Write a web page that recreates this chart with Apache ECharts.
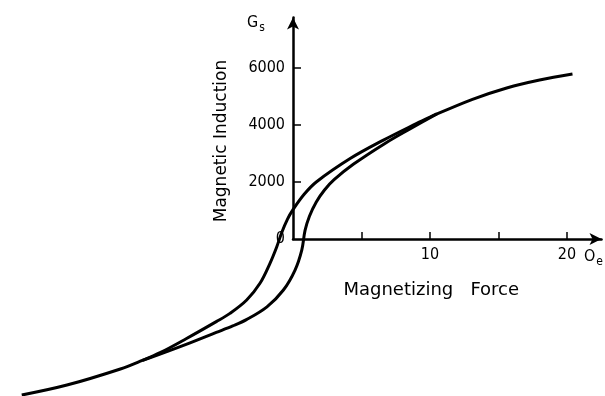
<!DOCTYPE html>
<html>
<head>
<meta charset="utf-8">
<script src="https://cdn.jsdelivr.net/npm/echarts@6/dist/echarts.min.js"></script>
<style>
  html, body { margin: 0; padding: 0; background: #fff; }
  #chart { width: 605px; height: 396px; }
</style>
</head>
<body>
<div id="chart"></div>
<script>
// hysteresis loop, H in Oe, B in Gs
// upper branch: from +saturation back down to -saturation (includes both shared tails)
var upperH = [20.4, 18.0, 15.6, 13.1, 10.0, 9.0, 6.6, 4.2, 1.7, 0.8, 0, -0.4, -0.82, -1.19, -1.68, -2.41, -3.38, -4.6, -5.6, -7.8, -9.7, -11.0, -12.6, -16.5, -19.8];
var upperB = [5790, 5580, 5300, 4900, 4280, 4050, 3470, 2830, 2000, 1560, 1030, 700, 230, -280, -853, -1555, -2141, -2610, -2900, -3500, -3990, -4260, -4560, -5125, -5475];
// lower branch: from the lower merge point up to the upper merge point
var lowerH = [-11.0, -9.7, -7.8, -5.6, -4.4, -3.4, -1.9, -0.7, 0.15, 0.64, 0.88, 1.2, 1.7, 2.3, 3.0, 4.4, 6.8, 8.6, 10.5];
var lowerB = [-4260, -4040, -3700, -3280, -3050, -2830, -2380, -1790, -1090, -390, 300, 800, 1300, 1720, 2080, 2620, 3380, 3880, 4390];

var xTicks = [5, 10, 15, 20];
var xLabels = [10, 20];
var yTicks = [2000, 4000, 6000];
var yLabels = [0, 2000, 4000, 6000];

function pairs(xs, ys) {
  return xs.map(function (x, i) { return [x, ys[i]]; });
}

// origin in pixels and pixels per unit, shared by both grids
var ox = 293, oy = 239, kx = 13.7, ky = 0.0285;
var gridTop = 17.5, axW = 308.5;

var font = '"DejaVu Sans Condensed", "DejaVu Sans", sans-serif';
var titleFont = '"DejaVu Sans", sans-serif';
var chart = echarts.init(document.getElementById('chart'));

var hidden = { show: false };

var option = {
  animation: false,
  backgroundColor: '#fff',
  grid: [
    { left: 0, top: gridTop, width: ox + axW, height: 396 - gridTop },
    { left: ox, top: gridTop, width: axW, height: oy - gridTop }
  ],
  xAxis: [
    {
      type: 'value', gridIndex: 0, min: -ox / kx, max: axW / kx,
      axisLine: hidden, axisTick: hidden, axisLabel: hidden, splitLine: hidden
    },
    {
      type: 'value', gridIndex: 1, min: 0, max: axW / kx,
      splitLine: { show: false },
      axisLine: {
        show: true,
        lineStyle: { color: '#000', width: 2.5 },
        symbol: ['none', 'arrow'],
        symbolSize: [9, 12]
      },
      axisTick: { show: true, inside: true, length: 7, customValues: xTicks, lineStyle: { color: '#000', width: 1.5 } },
      axisLabel: { customValues: xLabels, color: '#000', fontFamily: font, fontSize: 16, margin: 8 },
      name: 'Magnetizing   Force',
      nameLocation: 'middle',
      nameGap: 42,
      nameTextStyle: { color: '#000', fontFamily: titleFont, fontSize: 18, padding: [0, 32, 0, 0] }
    }
  ],
  yAxis: [
    {
      type: 'value', gridIndex: 0, min: -(396 - oy) / ky, max: (oy - gridTop) / ky,
      axisLine: hidden, axisTick: hidden, axisLabel: hidden, splitLine: hidden
    },
    {
      type: 'value', gridIndex: 1, min: 0, max: (oy - gridTop) / ky,
      splitLine: { show: false },
      axisLine: {
        show: true,
        lineStyle: { color: '#000', width: 2.5 },
        symbol: ['none', 'arrow'],
        symbolSize: [9, 12]
      },
      axisTick: { show: true, inside: true, length: 8, customValues: yTicks, lineStyle: { color: '#000', width: 1.5 } },
      axisLabel: {
        customValues: yLabels, color: '#000', fontFamily: font, fontSize: 16, margin: 8,
        formatter: function (v) { return String(v); }
      }
    }
  ],
  graphic: [
    {
      type: 'text', left: 247, top: 15,
      style: { text: '{g|G}{s|s}', fill: '#000', rich: { g: { fontFamily: font, fontSize: 16 }, s: { fontFamily: font, fontSize: 12, padding: [10, 0, 0, 1] } } }
    },
    {
      type: 'text', left: 584, top: 249,
      style: { text: '{o|O}{e|e}', fill: '#000', rich: { o: { fontFamily: font, fontSize: 16 }, e: { fontFamily: font, fontSize: 12, padding: [10, 0, 0, 1] } } }
    },
    {
      type: 'text', x: 222, y: 141, rotation: Math.PI / 2,
      style: { text: 'Magnetic Induction', fill: '#000', font: '17px ' + titleFont, align: 'center', verticalAlign: 'middle' }
    }
  ],
  series: [
    {
      type: 'line', xAxisIndex: 0, yAxisIndex: 0, data: pairs(upperH, upperB), showSymbol: false,
      smooth: 0.35, lineStyle: { color: '#000', width: 3 }
    },
    {
      type: 'line', xAxisIndex: 0, yAxisIndex: 0, data: pairs(lowerH, lowerB), showSymbol: false,
      smooth: 0.35, lineStyle: { color: '#000', width: 3 }
    }
  ]
};
chart.setOption(option);
</script>
</body>
</html>
